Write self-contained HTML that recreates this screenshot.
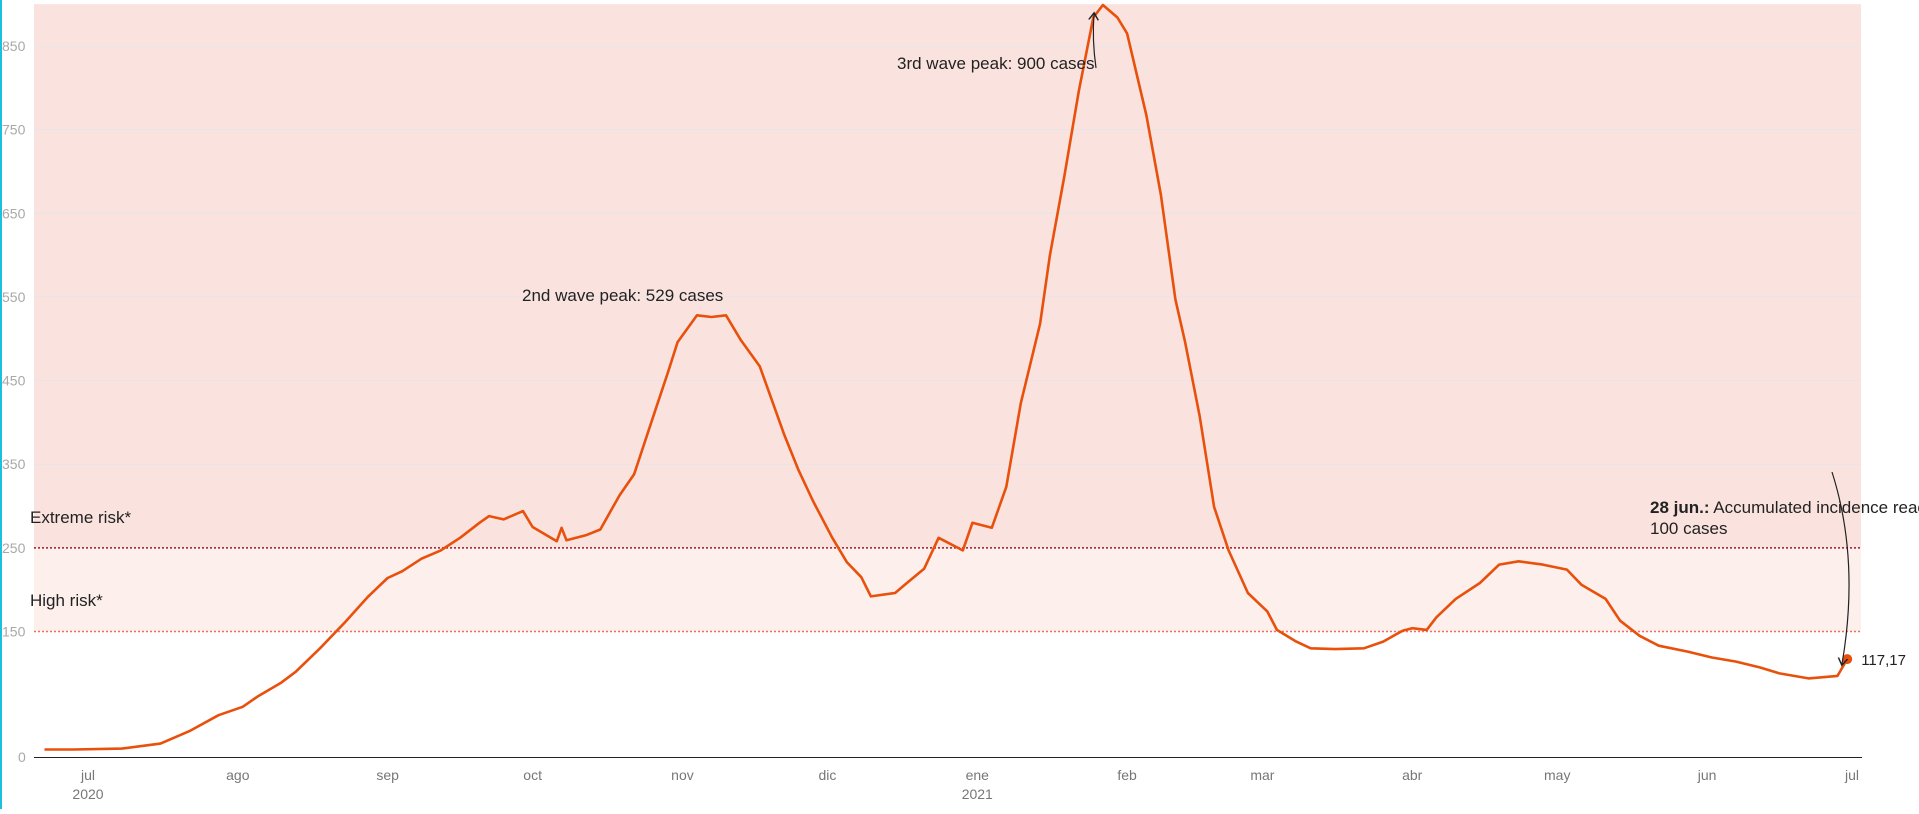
<!DOCTYPE html>
<html><head><meta charset="utf-8"><style>
html,body{margin:0;padding:0;background:#fff;}
body{width:1919px;height:809px;overflow:hidden;font-family:"Liberation Sans",sans-serif;}
svg text{font-family:"Liberation Sans",sans-serif;}
</style></head><body>
<svg id="chart" width="1919" height="809" viewBox="0 0 1919 809" xmlns="http://www.w3.org/2000/svg">
<rect x="0" y="0" width="2" height="809" fill="#1cc0dc"/>
<g id="bands"></g><g id="grid"></g><g id="yticks"></g><g id="xticks"></g><g id="series"></g><g id="annot"></g>
</svg>
<script>
const days = [-9,-3,7,15,21,27,32,35,40,43,48,53,58,62,65,69,73,77,81,83,86,90,92,97,98,99,103,106,110,113,117,120,122,126,129,132,135,139,144,147,150,154,157,160,162,167,169,173,176,181,183,187,190,193,197,199,202,205,208,210,213,215,219,222,225,227,230,233,236,240,244,246,250,253,258,264,268,272,274,277,279,283,288,292,296,301,306,309,314,317,321,325,331,336,341,346,350,356,362,364];
const values = [9,9,10,16,31,50,60,72,89,102,130,160,192,214,222,237,247,262,280,288,284,294,275,258,274,259,265,272,313,338,408,460,496,528,526,528,499,467,386,343,306,262,233,215,192,196,206,225,262,247,280,274,323,423,518,599,694,796,884,899,884,865,767,672,547,496,408,299,247,196,174,152,138,130,129,130,138,151,154,152,167,189,208,230,234,230,224,206,189,163,145,133,126,119,114,107,100,94,97,117];
const yTicks = [0,150,250,350,450,550,650,750,850];
const monthLabels = ["jul","ago","sep","oct","nov","dic","ene","feb","mar","abr","may","jun","jul"];
const monthDays = [0,31,62,92,123,153,184,215,243,274,304,335,365];
const yearLabels = [["2020",0],["2021",184]];
const zones = [[150,250,"#fcefec"],[250,900,"#fae3de"]];

const X0=34,X1=1861;
const xs = d => 88 + d*4.833;
const ys = v => 757 - v*0.8365;
const NS="http://www.w3.org/2000/svg";
function mk(tag,parent,attrs){const e=document.createElementNS(NS,tag);for(const k in attrs)e.setAttribute(k,attrs[k]);parent.appendChild(e);return e;}
const g=id=>document.getElementById(id);

zones.forEach(z=>{
  const r=mk('rect',g('bands'),{x:X0,y:ys(z[1]),width:X1-X0,height:ys(z[0])-ys(z[1]),fill:z[2]});
  
  
});
yTicks.forEach(t=>{
  if(t>=350){const l=mk('line',g('grid'),{x1:X0,x2:X1,y1:ys(t),y2:ys(t),stroke:"#e6e4ea","stroke-width":1});
    
    }
  const tx=mk('text',g('yticks'),{x:t===0?18:2,y:ys(t)+5,"font-size":14,fill:"#a8a8a8"});
  tx.textContent=t;
  
  
});
[[250,"#9b1c2a"],[150,"#f0705e"]].forEach(d=>{
  const l=mk('line',g('grid'),{x1:X0,x2:X1,y1:ys(d[0]),y2:ys(d[0]),stroke:d[1],"stroke-width":1.5,"stroke-dasharray":"2,2"});
  
  
});
const ax=mk('line',g('xticks'),{x1:X0,x2:X1+1,y1:757.5,y2:757.5,stroke:"#222","stroke-width":1});


monthLabels.forEach((m,i)=>{
  const t=mk('text',g('xticks'),{x:xs(monthDays[i]),y:780,"font-size":14,fill:"#777","text-anchor":"middle"});
  t.textContent=m;
  
  
});
yearLabels.forEach(yl=>{
  const t=mk('text',g('xticks'),{x:xs(yl[1]),y:799,"font-size":14,fill:"#777","text-anchor":"middle"});
  t.textContent=yl[0];
  
  
});
const pd=days.map((d,i)=>(i?'L':'M')+xs(d).toFixed(1)+','+ys(values[i]).toFixed(1)).join(' ');
const line=mk('path',g('series'),{d:pd,fill:"none",stroke:"#e8500c","stroke-width":2.6,"stroke-linejoin":"round"});


const li=days.length-1;
const dot=mk('circle',g('series'),{cx:xs(days[li]),cy:ys(values[li]),r:5,fill:"#e8500c"});


const lv=mk('text',g('series'),{x:xs(days[li])+14,y:ys(values[li])+6,"font-size":15,fill:"#222"});
lv.textContent=String(values[li])+",17";


</script>
<svg style="position:absolute;left:0;top:0" width="1919" height="809">
<defs><marker id="ah" markerWidth="10" markerHeight="10" refX="5" refY="5" orient="auto"><path d="M0,1 L6,5 L0,9" fill="none" stroke="#222" stroke-width="1.2"/></marker></defs>
<text x="30" y="523" font-size="17" fill="#222">Extreme risk*</text>
<text x="30" y="606" font-size="17" fill="#222">High risk*</text>
<text x="522" y="301" font-size="17" fill="#222">2nd wave peak: 529 cases</text>
<text x="897" y="69" font-size="17" fill="#222">3rd wave peak: 900 cases</text>
<path d="M1096,68 Q1092,40 1094,14" fill="none" stroke="#222" stroke-width="1.2" marker-end="url(#ah)"/>
<text x="1650" y="513" font-size="17" fill="#222"><tspan font-weight="bold">28 jun.:</tspan> Accumulated incidence reaches</text>
<text x="1650" y="534" font-size="17" fill="#222">100 cases</text>
<path d="M1832,472 Q1860,560 1842,664" fill="none" stroke="#222" stroke-width="1.2" marker-end="url(#ah)"/>
</svg>
</body></html>
